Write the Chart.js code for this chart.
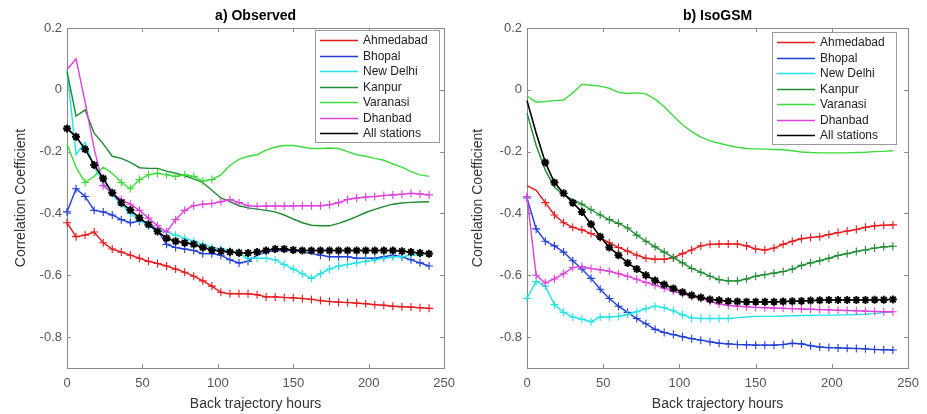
<!DOCTYPE html>
<html>
<head>
<meta charset="utf-8">
<script src="https://cdn.jsdelivr.net/npm/chart.js@4.4.1/dist/chart.umd.min.js"></script>
<style>
	body { margin: 0; background: #fff; }
	#wrap { position: relative; width: 927px; height: 414px; }
	#wrap canvas { position: absolute; top: 0; }
</style>
</head>
<body>
<div id="wrap">
	<canvas id="obs" width="463" height="414" style="left:0"></canvas>
	<canvas id="iso" width="464" height="414" style="left:463px"></canvas>
</div>
<script>
const FONT = '"Liberation Sans", Arial, Helvetica, sans-serif';

const stations = ['Ahmedabad', 'Bhopal', 'New Delhi', 'Kanpur', 'Varanasi', 'Dhanbad', 'All stations'];
const colors = ['#e8191c', '#1f3fd8', '#22e3e8', '#1e8c30', '#3ddc3d', '#e040e0', '#000000'];

const hours = [0, 6, 12, 18, 24, 30, 36, 42, 48, 54, 60, 66, 72, 78, 84, 90, 96, 102, 108, 114,
	120, 126, 132, 138, 144, 150, 156, 162, 168, 174, 180, 186, 192, 198, 204, 210, 216, 222, 228, 234, 240];
const xTicks = [0, 50, 100, 150, 200, 250];
const yTicks = [-0.8, -0.6, -0.4, -0.2, 0, 0.2];

// a) Observed
const obsAhmedabad = [-0.43, -0.475, -0.47, -0.46, -0.495, -0.515, -0.525, -0.535, -0.545, -0.555,
	-0.562, -0.57, -0.58, -0.59, -0.603, -0.618, -0.635, -0.655, -0.66, -0.66,
	-0.66, -0.663, -0.67, -0.67, -0.672, -0.673, -0.675, -0.678, -0.682, -0.685,
	-0.687, -0.688, -0.69, -0.692, -0.695, -0.697, -0.7, -0.702, -0.703, -0.705, -0.707];
const obsBhopal = [-0.395, -0.32, -0.345, -0.39, -0.395, -0.405, -0.42, -0.43, -0.425, -0.43,
	-0.455, -0.5, -0.51, -0.515, -0.52, -0.53, -0.53, -0.535, -0.55, -0.56,
	-0.555, -0.535, -0.525, -0.52, -0.52, -0.52, -0.525, -0.53, -0.535, -0.54,
	-0.54, -0.54, -0.545, -0.545, -0.545, -0.54, -0.535, -0.54, -0.55, -0.56, -0.57];
const obsNewDelhi = [0.065, -0.21, -0.17, -0.25, -0.3, -0.34, -0.37, -0.4, -0.42, -0.44,
	-0.455, -0.46, -0.47, -0.48, -0.49, -0.5, -0.51, -0.515, -0.52, -0.53,
	-0.545, -0.545, -0.545, -0.55, -0.565, -0.58, -0.595, -0.61, -0.595, -0.58,
	-0.57, -0.565, -0.56, -0.555, -0.55, -0.545, -0.54, -0.54, -0.535, -0.532, -0.53];
const obsKanpur = [0.06, -0.085, -0.065, -0.14, -0.175, -0.215, -0.222, -0.235, -0.252, -0.254,
	-0.254, -0.263, -0.27, -0.278, -0.288, -0.3, -0.325, -0.35, -0.362, -0.375,
	-0.382, -0.386, -0.39, -0.395, -0.405, -0.418, -0.43, -0.438, -0.44, -0.44,
	-0.432, -0.422, -0.41, -0.397, -0.387, -0.378, -0.37, -0.366, -0.364, -0.363, -0.362];
const obsVaranasi = [-0.175, -0.25, -0.3, -0.28, -0.25, -0.27, -0.3, -0.32, -0.29, -0.275,
	-0.27, -0.275, -0.28, -0.275, -0.28, -0.295, -0.29, -0.275, -0.245, -0.225,
	-0.215, -0.21, -0.195, -0.185, -0.18, -0.18, -0.185, -0.19, -0.19, -0.188,
	-0.19, -0.2, -0.21, -0.215, -0.222, -0.228, -0.24, -0.25, -0.265, -0.275, -0.28];
const obsDhanbad = [0.065, 0.1, -0.04, -0.19, -0.31, -0.335, -0.355, -0.37, -0.39, -0.415,
	-0.44, -0.46, -0.42, -0.39, -0.375, -0.37, -0.368, -0.362, -0.355, -0.365,
	-0.375, -0.377, -0.376, -0.376, -0.376, -0.376, -0.375, -0.375, -0.375, -0.372,
	-0.365, -0.355, -0.35, -0.347, -0.345, -0.342, -0.34, -0.338, -0.335, -0.337, -0.34];
const obsAll = [-0.125, -0.152, -0.192, -0.243, -0.287, -0.333, -0.365, -0.389, -0.414, -0.436,
	-0.458, -0.48, -0.49, -0.495, -0.5, -0.51, -0.518, -0.522, -0.525, -0.527,
	-0.528, -0.525, -0.52, -0.515, -0.515, -0.518, -0.52, -0.52, -0.52, -0.52,
	-0.52, -0.52, -0.52, -0.52, -0.52, -0.52, -0.52, -0.522, -0.525, -0.528, -0.53];

// b) IsoGSM
const isoAhmedabad = [-0.31, -0.325, -0.365, -0.405, -0.43, -0.445, -0.453, -0.465, -0.478, -0.495,
	-0.51, -0.522, -0.535, -0.545, -0.548, -0.548, -0.543, -0.53, -0.518, -0.505,
	-0.5, -0.499, -0.499, -0.499, -0.505, -0.515, -0.518, -0.512, -0.5, -0.49,
	-0.482, -0.478, -0.475, -0.468, -0.462, -0.457, -0.452, -0.445, -0.44, -0.438, -0.437];
const isoBhopal = [-0.35, -0.45, -0.49, -0.505, -0.525, -0.553, -0.58, -0.61, -0.645, -0.675,
	-0.7, -0.72, -0.74, -0.757, -0.775, -0.785, -0.792, -0.799, -0.805, -0.81,
	-0.815, -0.82, -0.822, -0.824, -0.825, -0.826, -0.826, -0.826, -0.824, -0.82,
	-0.822, -0.828, -0.832, -0.834, -0.835, -0.836, -0.837, -0.838, -0.84, -0.841, -0.842];
const isoNewDelhi = [-0.675, -0.62, -0.635, -0.695, -0.72, -0.735, -0.742, -0.75, -0.735, -0.735,
	-0.733, -0.727, -0.718, -0.708, -0.7, -0.705, -0.715, -0.728, -0.738, -0.74,
	-0.74, -0.74, -0.74, -0.737, -0.735, -0.733, -0.733, -0.733, -0.732, -0.731,
	-0.73, -0.73, -0.729, -0.729, -0.729, -0.728, -0.727, -0.726, -0.724, -0.721, -0.718];
const isoKanpur = [-0.075, -0.18, -0.26, -0.315, -0.34, -0.355, -0.37, -0.388, -0.405, -0.42,
	-0.432, -0.447, -0.47, -0.49, -0.508, -0.525, -0.543, -0.56, -0.578, -0.59,
	-0.603, -0.614, -0.618, -0.618, -0.612, -0.603, -0.598, -0.593, -0.588, -0.58,
	-0.568, -0.56, -0.553, -0.545, -0.536, -0.53, -0.523, -0.518, -0.512, -0.508, -0.506];
const isoVaranasi = [-0.02, -0.04, -0.038, -0.035, -0.033, -0.01, 0.018, 0.015, 0.012, 0.005,
	-0.008, -0.012, -0.01, -0.013, -0.03, -0.055, -0.085, -0.113, -0.135, -0.153,
	-0.165, -0.173, -0.18, -0.186, -0.19, -0.191, -0.192, -0.193, -0.194, -0.197,
	-0.201, -0.203, -0.204, -0.204, -0.204, -0.204, -0.203, -0.202, -0.2, -0.199, -0.197];
const isoDhanbad = [-0.345, -0.6, -0.625, -0.612, -0.595, -0.575, -0.572, -0.578, -0.582, -0.587,
	-0.595, -0.603, -0.613, -0.623, -0.632, -0.642, -0.652, -0.66, -0.668, -0.675,
	-0.685, -0.693, -0.698, -0.7, -0.702, -0.704, -0.705, -0.706, -0.707, -0.708,
	-0.709, -0.71, -0.711, -0.712, -0.713, -0.714, -0.715, -0.716, -0.717, -0.718, -0.718];
const isoAll = [-0.035, -0.14, -0.235, -0.3, -0.335, -0.365, -0.395, -0.435, -0.475, -0.51,
	-0.535, -0.56, -0.58, -0.6, -0.617, -0.63, -0.643, -0.655, -0.665, -0.672,
	-0.678, -0.681, -0.684, -0.685, -0.686, -0.686, -0.686, -0.686, -0.685, -0.684,
	-0.683, -0.682, -0.681, -0.68, -0.68, -0.68, -0.68, -0.68, -0.679, -0.679, -0.678];

// hour ranges where a series is marked (significant)
const obsSig = [[[0, 240]], [[0, 120], [168, 240]], [[36, 240]], [], [[12, 12], [36, 96]], [[24, 240]], [[0, 240]]];
const isoSig = [[[12, 240]], [[0, 240]], [[0, 132]], [[36, 240]], [], [[0, 240]], [[12, 240]]];

function line(ctx, x1, y1, x2, y2) {
	ctx.beginPath();
	ctx.moveTo(x1, y1);
	ctx.lineTo(x2, y2);
	ctx.stroke();
}

// matlab style box with inward ticks, and a legend inside the axes
const matlabAxes = {
	id: 'matlabAxes',
	beforeDatasetsDraw(chart) {
		const { ctx, chartArea: a, scales: { x, y } } = chart;
		ctx.save();
		ctx.strokeStyle = '#8a8a8a';
		ctx.lineWidth = 1;
		ctx.strokeRect(Math.round(a.left) + 0.5, Math.round(a.top) + 0.5, Math.round(a.width), Math.round(a.height));
		xTicks.forEach(v => {
			const px = Math.round(x.getPixelForValue(v)) + 0.5;
			line(ctx, px, a.bottom, px, a.bottom - 4);
			line(ctx, px, a.top, px, a.top + 4);
		});
		yTicks.forEach(v => {
			const py = Math.round(y.getPixelForValue(v)) + 0.5;
			line(ctx, a.left, py, a.left + 4, py);
			line(ctx, a.right, py, a.right - 4, py);
		});
		ctx.restore();
	},
	afterDraw(chart, args, opts) {
		const { ctx, chartArea: a } = chart;
		const w = 124, h = 112;
		const left = Math.round(a.right - opts.right - w);
		const top = Math.round(a.top + opts.top);
		ctx.save();
		ctx.fillStyle = '#fff';
		ctx.fillRect(left, top, w, h);
		ctx.strokeStyle = '#9a9a9a';
		ctx.lineWidth = 1;
		ctx.strokeRect(left + 0.5, top + 0.5, w, h);
		ctx.font = '12px ' + FONT;
		ctx.textBaseline = 'middle';
		chart.data.datasets.forEach((ds, i) => {
			const yy = Math.round(top + 10 + i * 15.5) + 0.5;
			ctx.strokeStyle = ds.borderColor;
			ctx.lineWidth = 1.4;
			line(ctx, left + 5, yy, left + 43, yy);
			ctx.fillStyle = '#222';
			ctx.fillText(ds.label, left + 48, yy);
		});
		ctx.restore();
	}
};

function sigRadius(ranges, size) {
	return ctx => ranges.some(([a, b]) => hours[ctx.dataIndex] >= a && hours[ctx.dataIndex] <= b) ? size : 0;
}

function makeDatasets(series, sig) {
	return stations.map((name, i) => ({
		label: name,
		data: hours.map((h, k) => ({ x: h, y: series[i][k] })),
		borderColor: colors[i],
		backgroundColor: colors[i],
		borderWidth: i === 6 ? 1.6 : 1.4,
		pointStyle: i === 6 ? 'star' : 'cross',
		pointRadius: sigRadius(sig[i], 4),
		pointBorderWidth: i === 6 ? 1.9 : 1.1,
		pointBorderColor: colors[i],
		order: stations.length - i,
		tension: 0,
		clip: false
	}));
}

function makeOptions(title, yWidth, yTitlePad, padRight, legendPos) {
	return {
		responsive: false,
		animation: false,
		devicePixelRatio: 1,
		layout: { padding: { left: 0, right: padRight, top: 0, bottom: 0 } },
		plugins: {
			legend: { display: false },
			tooltip: { enabled: false },
			title: {
				display: true,
				text: title,
				fullSize: false,
				color: '#000',
				font: { family: FONT, size: 14, weight: 'bold' },
				padding: { top: 7.6, bottom: 3.6 }
			},
			matlabAxes: legendPos
		},
		scales: {
			x: {
				type: 'linear',
				min: 0,
				max: 250,
				grid: { display: false, drawTicks: false },
				border: { display: false },
				afterBuildTicks: s => { s.ticks = xTicks.map(v => ({ value: v })); },
				afterFit: s => { s.height = 46; },
				ticks: { padding: 8, maxRotation: 0, color: '#555', font: { family: FONT, size: 13 } },
				title: {
					display: true,
					text: 'Back trajectory hours',
					color: '#333',
					font: { family: FONT, size: 14 },
					padding: { top: 0, bottom: 1.6 }
				}
			},
			y: {
				type: 'linear',
				min: -0.9,
				max: 0.2,
				grid: { display: false, drawTicks: false },
				border: { display: false },
				afterBuildTicks: s => { s.ticks = yTicks.map(v => ({ value: v })); },
				afterFit: s => { s.width = yWidth; },
				ticks: {
					padding: 5,
					color: '#555',
					font: { family: FONT, size: 13 },
					callback: v => String(Math.round(v * 10) / 10)
				},
				title: {
					display: true,
					text: 'Correlation Coefficient',
					color: '#333',
					font: { family: FONT, size: 14 },
					padding: { top: yTitlePad, bottom: 0 }
				}
			}
		}
	};
}

new Chart(document.getElementById('obs'), {
	type: 'line',
	data: { datasets: makeDatasets([obsAhmedabad, obsBhopal, obsNewDelhi, obsKanpur, obsVaranasi, obsDhanbad, obsAll], obsSig) },
	options: makeOptions('a) Observed', 67, 12.6, 14, { right: 5, top: 2 }),
	plugins: [matlabAxes]
});

new Chart(document.getElementById('iso'), {
	type: 'line',
	data: { datasets: makeDatasets([isoAhmedabad, isoBhopal, isoNewDelhi, isoKanpur, isoVaranasi, isoDhanbad, isoAll], isoSig) },
	options: makeOptions('b) IsoGSM', 64, 6.6, 18, { right: 12, top: 4 }),
	plugins: [matlabAxes]
});
</script>
</body>
</html>
